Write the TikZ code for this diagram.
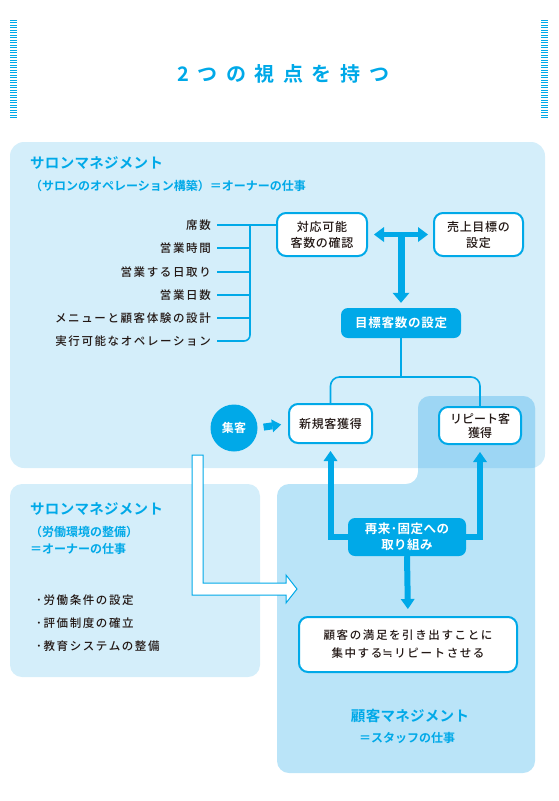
\documentclass[tikz,border=0pt]{standalone}
\usepackage{fontspec}
\setmainfont{Noto Sans CJK JP}[UprightFont=* Medium, BoldFont=* Bold]
\newfontfamily\symfont{DejaVu Sans}
\usepackage{tikz}
\usetikzlibrary{
    positioning,
    calc,
    arrows.meta
}
\definecolor{salonblue}{HTML}{00A9E8}
\definecolor{panelpale}{HTML}{D4EEFA}
\definecolor{panelstaff}{HTML}{BAE4F8}
\definecolor{paneloverlap}{HTML}{9DD6F4}
\definecolor{inkgray}{HTML}{231815}
\tikzset{
  basic/.style = {
      align=center,
      inner sep=0pt,
      text=inkgray
  },
  round/.style = {
      basic,
      draw=salonblue,
      line width=2pt,
      fill=white,
      rounded corners=9pt,
      font=\fontsize{12}{16}\selectfont\addfontfeature{LetterSpace=6}
  },
  keybox/.style = {
      basic,
      fill=salonblue,
      rounded corners=7pt,
      text=white,
      font=\bfseries\fontsize{12.5}{16}\selectfont\addfontfeature{LetterSpace=6}
  },
  vertex/.style = {
      basic,
      circle,
      fill=salonblue,
      text=white,
      minimum size=47pt,
      font=\bfseries\fontsize{12}{14}\selectfont\addfontfeature{LetterSpace=4}
  },
  headline/.style = {
      text=salonblue,
      inner sep=0pt,
      font=\bfseries\fontsize{20}{22}\selectfont\addfontfeature{LetterSpace=43}
  },
  heading/.style = {
      anchor=west,
      inner sep=0pt,
      text=salonblue,
      font=\bfseries\fontsize{14.5}{16}\selectfont\addfontfeature{LetterSpace=2}
  },
  subheading/.style = {
      heading,
      font=\bfseries\fontsize{12}{14}\selectfont
  },
  item/.style = {
      anchor=east,
      inner sep=0pt,
      text=inkgray,
      font=\fontsize{11.5}{14}\selectfont\addfontfeature{LetterSpace=14}
  },
  bullet/.style = {
      item,
      anchor=west
  },
  hatch/.style = {
      draw=salonblue,
      line width=1pt
  },
  link/.style = {
      draw=salonblue,
      line width=1.6pt,
      rounded corners=6pt
  },
  fat/.style = {
      draw=salonblue,
      line width=6pt,
      -{Triangle[width=14pt,length=10pt,line width=0pt]}
  },
  hollow/.style = {
      draw=salonblue,
      fill=white,
      line width=1pt,
      line join=miter
  }
}
\begin{document}
\begin{tikzpicture}[x=1pt, y=-1pt]
    \useasboundingbox (0,0) rectangle (559,801);
    % Title
    \foreach \i in {0,...,39} {
        \draw[hatch] (10,{20+2.5*\i}) -- (17,{20+2.5*\i});
        \draw[hatch] (541,{20+2.5*\i}) -- (548,{20+2.5*\i});
    }
    \node[headline] (title) at (283,74) {2つの視点を持つ};
    % Panels
    \fill[panelpale, rounded corners=14pt] (10,142) rectangle (545,468);
    \fill[panelpale, rounded corners=12pt] (10,484) rectangle (260,677);
    \fill[panelstaff, rounded corners=12pt]
        (277,484) -- (418,484) -- (418,396) -- (535,396) -- (535,773) -- (277,773) -- cycle;
    \begin{scope}
        \clip[rounded corners=14pt] (10,142) rectangle (545,468);
        \fill[paneloverlap, rounded corners=12pt]
            (277,484) -- (418,484) -- (418,396) -- (535,396) -- (535,773) -- (277,773) -- cycle;
    \end{scope}
    % Salon management (operation)
    \node[heading] (salon) at (30,163) {サロンマネジメント};
    \node[subheading] (salonsub) at (30,186) {（サロンのオペレーション構築）＝オーナーの仕事};
    \foreach \txt/\y [count=\i] in {席数/225,営業時間/248,営業する日取り/272,営業日数/295,メニューと顧客体験の設計/318,実行可能なオペレーション/341}
        \node[item] (item\i) at (211,\y) {\txt};
    \node[round, minimum width=90pt, minimum height=43pt] (capa) at (322,234.5) {対応可能\\客数の確認};
    \node[round, minimum width=89pt, minimum height=43pt] (sales) at (478.5,234.5) {売上目標の\\設定};
    \node[keybox, minimum width=120pt, minimum height=30pt] (target) at (401,323) {目標客数の設定};
    \node[round, minimum width=83pt, minimum height=39pt] (new) at (330.5,423.5) {新規客獲得};
    \node[round, minimum width=82pt, minimum height=37pt,
          font=\fontsize{12}{14}\selectfont] (repeat) at (480,425.5) {リピート客\\獲得};
    \node[vertex] (gather) at (234,428) {集客};
    % Item lines
    \coordinate (bustop) at (250,225);
    \coordinate (busbot) at (250,341);
    \draw[link] ($(item1.east)+(6,0)$) -- (capa.west |- item1);
    \foreach \i in {2,...,5}
        \draw[link] ($(item\i.east)+(6,0)$) -- (bustop |- item\i);
    \draw[link] ($(item6.east)+(6,0)$) -- (busbot) -- (bustop);
    % Arrows
    \coordinate (hub) at (401,234.5);
    \draw[fat, line width=5pt, {Triangle[width=15pt,length=10pt,line width=0pt]}-{Triangle[width=15pt,length=10pt,line width=0pt]},
          shorten <=6pt, shorten >=5pt] (capa.east) -- (sales.west);
    \draw[fat, line width=7pt, -{Triangle[width=17pt,length=10pt,line width=0pt]}, shorten >=5pt] (hub) -- (target.north);
    \coordinate (split) at (401,377);
    \draw[link] (target.south) -- (split);
    \draw[link, rounded corners=9pt] (new.north) |- (split) -| (repeat.north);
    \draw[fat, line width=7pt, -{Triangle[width=13pt,length=9pt,line width=0pt]},
          shorten <=6pt, shorten >=7pt] (gather.east) -- (new.west);
    % Hollow arrow towards staff panel
    \draw[hollow] (192,455) -- (203,455) -- (203,583) -- (286,583) -- (286,575)
        -- (297,589) -- (286,603) -- (286,595) -- (192,595) -- cycle;
    % Salon management (work environment)
    \node[heading] (labour) at (30,509) {サロンマネジメント};
    \node[subheading] (laboursub) at (30,532) {（労働環境の整備）};
    \node[subheading] (labourowner) at (30,549) {＝オーナーの仕事};
    \node[bullet] (cond) at (36,600) {･労働条件の設定};
    \node[bullet] (eval) at (36,623) {･評価制度の確立};
    \node[bullet] (edu) at (36,646) {･教育システムの整備};
    % Customer management
    \node[keybox, minimum width=118pt, minimum height=38pt,
          font=\bfseries\fontsize{12.5}{16}\selectfont\addfontfeature{LetterSpace=4}] (retain) at (407,537) {再来･固定への\\取り組み};
    \node[round, minimum width=218pt, minimum height=55pt,
          font=\fontsize{11.5}{18}\selectfont\addfontfeature{LetterSpace=14}] (satisfy) at (408,644.5)
          {顧客の満足を引き出すことに\\集中する{\symfont\fontsize{12.5}{18}\selectfont ≒\kern1.5pt}リピートさせる};
    \draw[fat, shorten >=7pt] (retain.west) -| (new.south);
    \draw[fat, shorten >=7pt] (retain.east) -| (repeat.south);
    \draw[fat, line width=6pt, shorten >=7pt] (retain.south) -- (satisfy.north);
    \node[heading, anchor=center] (custom) at (410,716) {顧客マネジメント};
    \node[subheading, anchor=center] (staff) at (407,738) {＝スタッフの仕事};
\end{tikzpicture}
\end{document}
